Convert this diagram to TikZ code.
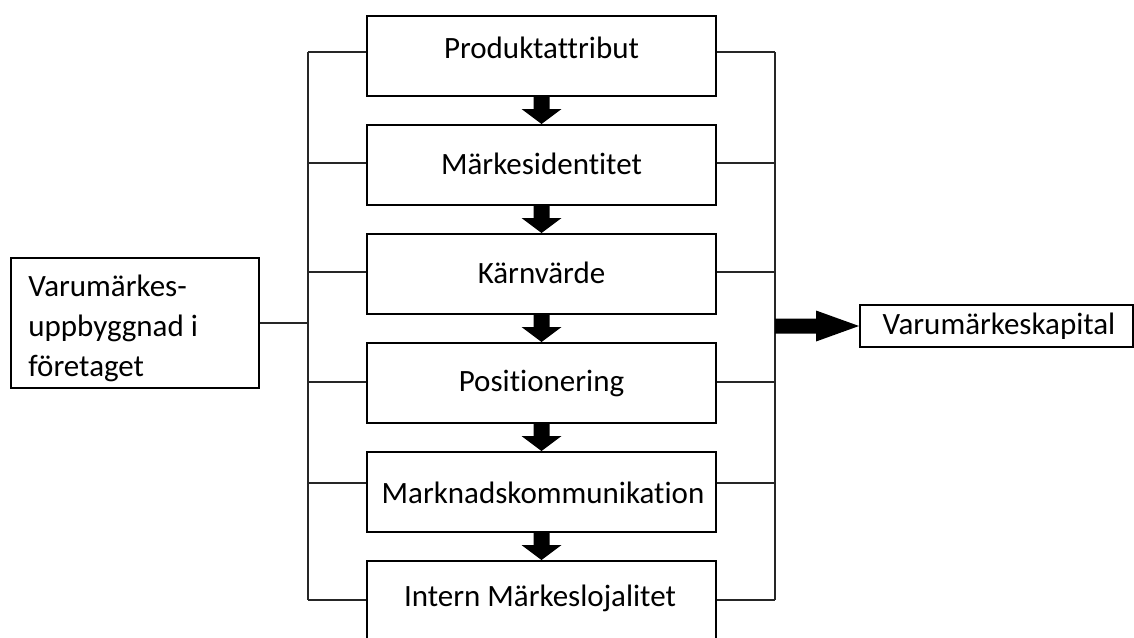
\documentclass[tikz,border=0pt]{standalone}
\usepackage{fontspec}
\setmainfont[Ligatures=NoCommon]{Carlito}
\usetikzlibrary{calc}
\begin{document}
\begin{tikzpicture}[x=0.5pt,y=-0.5pt,
  box/.style={draw=black,line width=1pt,minimum width=174.5pt,minimum height=40pt,inner sep=0pt},
  txt/.style={font=\fontsize{15.5}{20}\selectfont,inner sep=0pt,text=black},
  link/.style={draw=black!85,line width=0.8pt},
  blk/.style={fill=black}]
\useasboundingbox (0,0) rectangle (1134,637);
\clip (0,0) rectangle (1134,637);
% central boxes
\foreach \i/\cy in {1/56,2/165,3/274,4/383,5/492,6/601}{
  \node[box] (b\i) at (541.5,\cy) {};
}
\node[txt] (t1) at (541.5,48) {Produktattribut};
\node[txt] (t2) at (541.5,164) {Märkesidentitet};
\node[txt] (t3) at (541.5,273) {Kärnvärde};
\node[txt] (t4) at (541.5,383) {Positionering};
\node[txt] (t5) at (543,493) {Marknadskommunikation};
\node[txt] (t6) at (540,598) {Intern Märkeslojalitet};
% down block arrows
\foreach \i/\j in {1/2,2/3,3/4,4/5,5/6}{
  \fill[blk] ($(b\i.south)+(-8,0)$) -- ($(b\i.south)+(-8,12)$) -- ($(b\i.south)+(-20,12)$)
    -- (b\j.north) -- ($(b\i.south)+(20,12)$) -- ($(b\i.south)+(8,12)$) -- ($(b\i.south)+(8,0)$) -- cycle;
}
% buses
\coordinate (lt) at (308,52);
\coordinate (lb) at (308,600);
\coordinate (rt) at (775,52);
\coordinate (rb) at (775,600);
\draw[link] (lt) -- (lb);
\draw[link] (rt) -- (rb);
\foreach \i/\y in {1/52,2/163,3/272,4/382,5/483,6/600}{
  \coordinate (l\i) at (308,\y);
  \coordinate (r\i) at (775,\y);
  \draw[link] (l\i) -- (l\i -| b\i.west);
  \draw[link] (b\i.east |- r\i) -- (r\i);
}
% left source box
\node[box,minimum width=124pt,minimum height=65pt] (src) at (135,323) {};
\node[txt,align=left,anchor=north west] (srct) at (28,275) {Varumärkes-\\uppbyggnad i\\företaget};
\coordinate (lm) at (308,323);
\draw[link] (src.east |- lm) -- (lm);
% right destination box
\node[box,minimum width=136.5pt,minimum height=21pt] (dst) at (996.5,326) {};
\node[txt] (dstt) at (999,326) {Varumärkeskapital};
\coordinate (rm) at (775,326);
\fill[blk] ($(rm)+(0,-7.5)$) -- ($(dst.west)+(-43,-7.5)$) -- ($(dst.west)+(-43,-15.5)$)
  -- (dst.west) -- ($(dst.west)+(-43,15.5)$) -- ($(dst.west)+(-43,7.5)$) -- ($(rm)+(0,7.5)$) -- cycle;
\end{tikzpicture}
\end{document}
